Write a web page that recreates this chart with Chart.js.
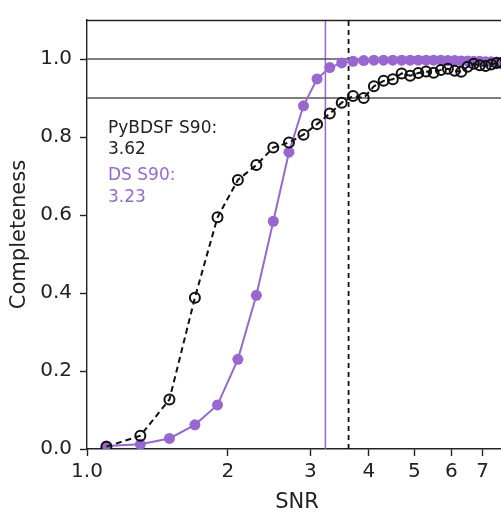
<!DOCTYPE html>
<html>
<head>
<meta charset="utf-8">
<script src="https://cdn.jsdelivr.net/npm/chart.js@4.4.1/dist/chart.umd.min.js"></script>
<style>
    html, body { margin: 0; padding: 0; background: #fff; overflow: hidden; }
    #wrap { width: 520px; height: 513px; }
</style>
</head>
<body>
<div id="wrap"><canvas id="completenessChart" width="520" height="513"></canvas></div>
<script>
// Completeness vs SNR for the two source finders
const snr = [1.1, 1.3, 1.5, 1.7, 1.9, 2.1, 2.3, 2.5, 2.7, 2.9, 3.1, 3.3, 3.5, 3.7, 3.9,
             4.1, 4.3, 4.5, 4.7, 4.9, 5.1, 5.3, 5.5, 5.7, 5.9, 6.1, 6.3, 6.5, 6.7, 6.9,
             7.1, 7.3, 7.5, 7.7, 7.9];
const pybdsfCompleteness = [0.006, 0.034, 0.127, 0.388, 0.594, 0.690, 0.728, 0.773, 0.786, 0.806,
                            0.833, 0.860, 0.888, 0.905, 0.900, 0.930, 0.944, 0.948, 0.963, 0.957,
                            0.964, 0.968, 0.965, 0.972, 0.975, 0.970, 0.967, 0.980, 0.988, 0.984,
                            0.982, 0.986, 0.990, 0.990, 0.992];
const dsCompleteness = [0.008, 0.012, 0.027, 0.062, 0.113, 0.230, 0.394, 0.584, 0.761, 0.880,
                        0.949, 0.978, 0.990, 0.994, 0.996, 0.997, 0.997, 0.997, 0.997, 0.997,
                        0.997, 0.997, 0.997, 0.997, 0.996, 0.996, 0.995, 0.995, 0.994, 0.994,
                        0.993, 0.993, 0.992, 0.992, 0.992];
const pybdsfS90 = 3.62;
const dsS90 = 3.23;
const refLevels = [1.0, 0.9];
const xTicks = [1, 2, 3, 4, 5, 6, 7];
const xTickLabels = ['1.0', '2', '3', '4', '5', '6', '7'];
const yTicks = [0, 0.2, 0.4, 0.6, 0.8, 1.0];

const X_MIN = 1, X_MAX = 7.89, Y_MIN = 0, Y_MAX = 1.1;
const PURPLE = '#9868d0';
const FONT = "'DejaVu Sans', sans-serif";

const toPoints = (xs, ys) => xs.map((x, i) => ({x: x, y: ys[i]}));

// horizontal reference levels and the two S90 markers
const refDatasets = refLevels.map(level => ({
    data: [{x: X_MIN, y: level}, {x: X_MAX, y: level}],
    borderColor: '#555', borderWidth: 1.5, pointRadius: 0
}));
refDatasets.push({
    data: [{x: dsS90, y: Y_MIN}, {x: dsS90, y: Y_MAX}],
    borderColor: PURPLE, borderWidth: 1.5, pointRadius: 0
});
refDatasets.push({
    data: [{x: pybdsfS90, y: Y_MIN}, {x: pybdsfS90, y: Y_MAX}],
    borderColor: '#111', borderWidth: 1.8, borderDash: [5, 4], pointRadius: 0
});

// top spine + S90 text
const framePlugin = {
    id: 'frame',
    afterDatasetsDraw(chart) {
        const {ctx, chartArea: a} = chart;
        ctx.save();
        ctx.strokeStyle = '#222';
        ctx.lineWidth = 1.4;
        ctx.beginPath();
        ctx.moveTo(a.left, a.top + 0.5);
        ctx.lineTo(a.right, a.top + 0.5);
        ctx.stroke();

        ctx.font = '17px ' + FONT;
        ctx.textAlign = 'left';
        ctx.textBaseline = 'middle';
        const tx = a.left + 21;
        ctx.fillStyle = '#222';
        ctx.fillText('PyBDSF S90:', tx, 129);
        ctx.fillText(pybdsfS90.toFixed(2), tx, 150);
        ctx.fillStyle = PURPLE;
        ctx.fillText('DS S90:', tx, 176);
        ctx.fillText(dsS90.toFixed(2), tx, 198);
        ctx.restore();
    }
};

new Chart(document.getElementById('completenessChart').getContext('2d'), {
    type: 'line',
    data: {
        datasets: [
            {
                label: 'PyBDSF',
                data: toPoints(snr, pybdsfCompleteness),
                borderColor: '#111',
                borderWidth: 2,
                borderDash: [6, 4],
                pointRadius: 5,
                pointBorderWidth: 2,
                pointBorderColor: '#111',
                pointBackgroundColor: 'rgba(0,0,0,0)'
            },
            {
                label: 'DS',
                data: toPoints(snr, dsCompleteness),
                borderColor: PURPLE,
                borderWidth: 2,
                pointRadius: 5.5,
                pointBorderWidth: 0,
                pointBackgroundColor: PURPLE
            },
            ...refDatasets
        ]
    },
    options: {
        responsive: false,
        animation: false,
        events: [],
        layout: {padding: {top: 10, right: 13, left: 0, bottom: 0}},
        plugins: {legend: {display: false}, tooltip: {enabled: false}},
        scales: {
            x: {
                type: 'logarithmic',
                min: X_MIN, max: X_MAX,
                afterBuildTicks: s => { s.ticks = xTicks.map(v => ({value: v})); },
                afterFit: s => { s.height = 64; },
                ticks: {
                    autoSkip: false, maxRotation: 0, padding: 4,
                    color: '#222', font: {family: FONT, size: 20},
                    callback: (v, i) => xTickLabels[i]
                },
                grid: {drawOnChartArea: false, tickLength: 7, tickColor: '#222', tickWidth: 1.4},
                border: {color: '#222', width: 1.4},
                title: {
                    display: true, text: 'SNR', color: '#222',
                    font: {family: FONT, size: 21, lineHeight: 1.0},
                    padding: {top: 0, bottom: 0}
                }
            },
            y: {
                min: Y_MIN, max: Y_MAX,
                afterBuildTicks: s => { s.ticks = yTicks.map(v => ({value: v})); },
                afterFit: s => { s.width = 87; },
                ticks: {
                    autoSkip: false, padding: 8,
                    color: '#222', font: {family: FONT, size: 20},
                    callback: v => v.toFixed(1)
                },
                grid: {drawOnChartArea: false, tickLength: 7, tickColor: '#222', tickWidth: 1.4},
                border: {color: '#222', width: 1.4},
                title: {
                    display: true, text: 'Completeness', color: '#222',
                    font: {family: FONT, size: 21, lineHeight: 1.0},
                    padding: {top: 9, bottom: 0}
                }
            }
        }
    },
    plugins: [framePlugin]
});
</script>
</body>
</html>
